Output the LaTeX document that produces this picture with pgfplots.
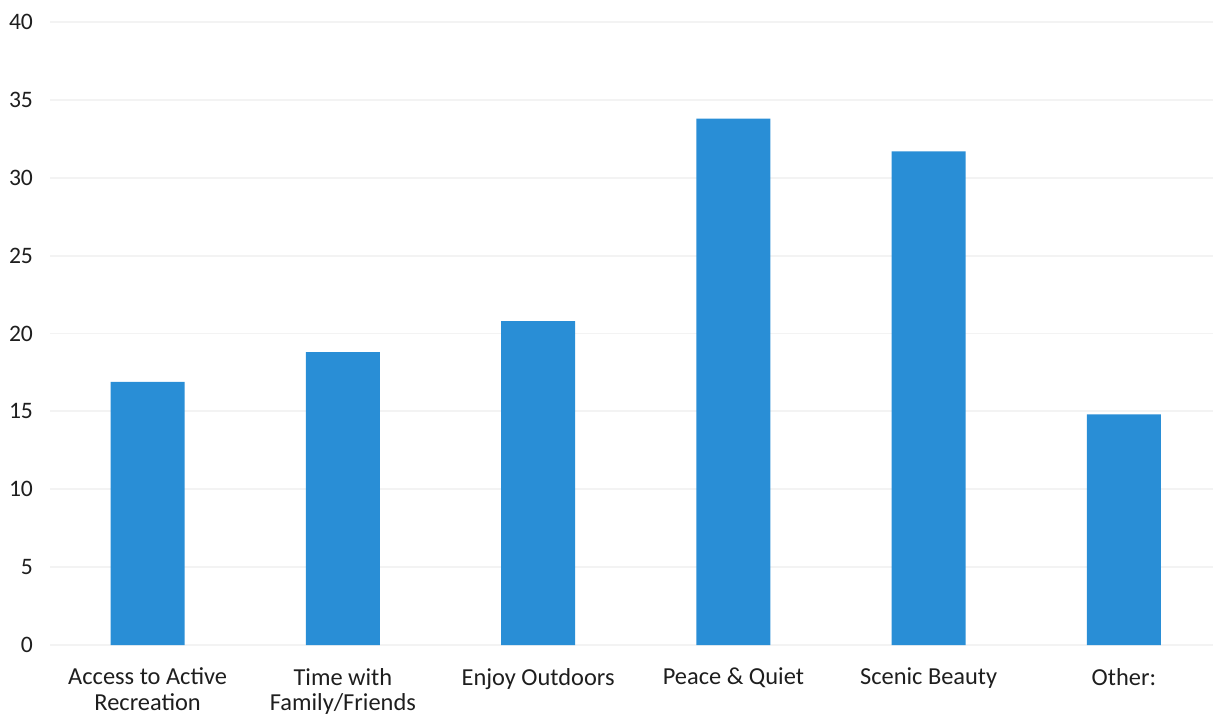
\documentclass[border=0pt]{standalone}
\usepackage{fontspec}
\setmainfont{Carlito}
\usepackage{pgfplots}
\pgfplotsset{compat=1.18}
\definecolor{barblue}{RGB}{41,142,214}
\definecolor{txt}{RGB}{30,30,30}
\definecolor{gridc}{RGB}{243,243,243}
\begin{document}
\begin{tikzpicture}[x=1pt,y=1pt]
\begin{axis}[name=ax, at={(0,0)}, anchor=south west, scale only axis,
  width=585.75pt, height=311.5pt,
  xmin=-0.5, xmax=5.5, ymin=0, ymax=40,
  axis line style={draw=none},
  ytick={0,5,...,40}, xtick={0,1,2,3,4,5},
  xticklabels={{Access to Active\\Recreation},{Time with\\Family/Friends},{Enjoy Outdoors},{Peace \& Quiet},{Scenic Beauty},{Other:}},
  xticklabel style={align=center, font=\fontsize{12.2}{12.6}\selectfont, text=txt, anchor=north, yshift=-8pt},
  yticklabel style={font=\fontsize{11.8}{13}\selectfont, text=txt, anchor=east, xshift=-5pt},
  ymajorgrids, grid style={draw=gridc, line width=0.9pt},
  major tick length=0pt, tick style={draw=none},
  /pgf/number format/assume math mode=true,
  clip=false]
\addplot[ybar, bar width=37pt, bar shift=0pt, fill=barblue, draw=none] coordinates {
  (0,16.9) (1,18.8) (2,20.8) (3,33.8) (4,31.7) (5,14.8)};
\end{axis}
\pgfresetboundingbox
\path[use as bounding box] (-25pt,-37pt) rectangle (581.5pt,322.5pt);
\end{tikzpicture}
\end{document}
